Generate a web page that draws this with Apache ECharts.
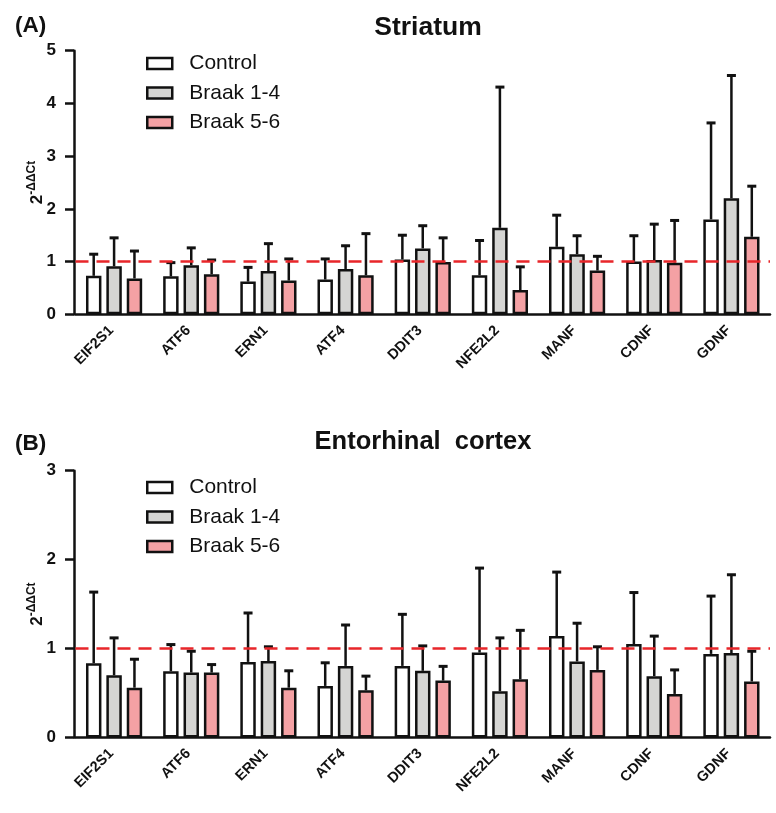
<!DOCTYPE html>
<html>
<head>
<meta charset="utf-8">
<script src="https://cdn.jsdelivr.net/npm/echarts@6/dist/echarts.min.js"></script>
<style>
html,body{margin:0;padding:0;background:#fff;}
#chart{width:776px;height:813px;}
</style>
</head>
<body>
<div id="chart"></div>
<script>
// ---- data ----
const genes = ['EIF2S1','ATF6','ERN1','ATF4','DDIT3','NFE2L2','MANF','CDNF','GDNF'];
const groupNames = ['Control','Braak 1-4','Braak 5-6'];

// Striatum (mean and SD, 2^-ΔΔCt)
const stControl     = [0.73, 0.72, 0.62, 0.66, 1.04, 0.74, 1.28, 1.00, 1.80];
const stControlSD   = [0.41, 0.26, 0.27, 0.39, 0.46, 0.66, 0.60, 0.49, 1.83];
const stBraak14     = [0.91, 0.93, 0.82, 0.86, 1.25, 1.64, 1.14, 1.03, 2.20];
const stBraak14SD   = [0.54, 0.33, 0.52, 0.44, 0.43, 2.67, 0.35, 0.68, 2.33];
const stBraak56     = [0.68, 0.76, 0.64, 0.74, 0.99, 0.46, 0.83, 0.98, 1.47];
const stBraak56SD   = [0.52, 0.27, 0.41, 0.79, 0.46, 0.44, 0.27, 0.80, 0.96];

// Entorhinal cortex
const ecControl     = [0.835, 0.745, 0.85, 0.58, 0.805, 0.955, 1.14, 1.05, 0.94];
const ecControlSD   = [0.80, 0.30, 0.55, 0.26, 0.58, 0.95, 0.72, 0.58, 0.65];
const ecBraak14     = [0.70, 0.73, 0.86, 0.805, 0.75, 0.52, 0.855, 0.69, 0.95];
const ecBraak14SD   = [0.42, 0.24, 0.16, 0.46, 0.28, 0.60, 0.43, 0.45, 0.88];
const ecBraak56     = [0.56, 0.73, 0.56, 0.53, 0.64, 0.655, 0.76, 0.49, 0.63];
const ecBraak56SD   = [0.32, 0.09, 0.19, 0.16, 0.16, 0.55, 0.26, 0.27, 0.34];

const stTicks = [0, 1, 2, 3, 4, 5];
const ecTicks = [0, 1, 2, 3];
const refLevel = 1;

// ---- styling ----
const FONT = '"Liberation Sans", Arial, sans-serif';
const fills = ['#ffffff', '#d5d5d3', '#f4a1a4'];
const INK = '#111111';
const BAR_W = 0.20;    // fraction of category band
const BAR_GAP = 0.32;  // fraction of bar width

function errRender(params, api) {
  const cat = api.value(0), s = api.value(1), mean = api.value(2), sd = api.value(3);
  const band = api.size([1, 0])[0];
  const bw = band * BAR_W, gap = bw * BAR_GAP;
  const off = (s - 1) * (bw + gap);
  const p0 = api.coord([cat, mean]);
  const p1 = api.coord([cat, mean + sd]);
  const x = p0[0] + off;
  return {
    type: 'group',
    children: [
      {type: 'line', shape: {x1: x, y1: p0[1], x2: x, y2: p1[1]}, style: {stroke: INK, lineWidth: 2.5}},
      {type: 'line', shape: {x1: x - 4.5, y1: p1[1], x2: x + 4.5, y2: p1[1]}, style: {stroke: INK, lineWidth: 3}}
    ]
  };
}

function errData(means, sds) {
  const out = [];
  means.forEach((m, s) => m.forEach((v, i) => out.push([i, s, v, sds[s][i]])));
  return out;
}

function xAxisFor(g) {
  return {
    type: 'category', gridIndex: g, data: genes,
    axisLine: {lineStyle: {color: INK, width: 2.5}},
    axisTick: {alignWithLabel: true, length: 7, lineStyle: {color: INK, width: 2.5}},
    axisLabel: {rotate: 45, margin: 11, padding: [0, 4, 0, 0], color: INK, fontFamily: FONT, fontWeight: 'bold', fontSize: 14.5, interval: 0}
  };
}
function yAxisFor(g, ticks) {
  return {
    type: 'value', gridIndex: g, min: ticks[0], max: ticks[ticks.length - 1], interval: 1,
    offset: 1.5,
    name: '{b|2}{s|-ΔΔCt}', nameLocation: 'middle', nameGap: 28, nameRotate: 90, nameMoveOverlap: false,
    nameTextStyle: {
      color: INK, fontFamily: FONT,
      rich: {
        b: {fontSize: 17, fontWeight: 'bold', fontFamily: FONT, color: INK, lineHeight: 20, verticalAlign: 'bottom'},
        s: {fontSize: 12, fontWeight: 'bold', fontFamily: FONT, color: INK, lineHeight: 20, verticalAlign: 'top'}
      }
    },
    splitLine: {show: false},
    axisLine: {show: true, lineStyle: {color: INK, width: 2.5}},
    axisTick: {show: true, length: 9, lineStyle: {color: INK, width: 2.5}},
    axisLabel: {margin: 18, color: INK, fontFamily: FONT, fontWeight: 'bold', fontSize: 17}
  };
}
function barSeries(g, name, idx, values) {
  return {
    type: 'bar', name: name, xAxisIndex: g, yAxisIndex: g, data: values,
    barWidth: (BAR_W * 100) + '%', barGap: (BAR_GAP * 100) + '%',
    itemStyle: {color: fills[idx], borderColor: INK, borderWidth: 2.5},
    emphasis: {disabled: true}, z: 2
  };
}
function refLine() {
  return {
    silent: true, symbol: ['none', 'none'],
    label: {show: false},
    lineStyle: {color: '#e8262a', width: 2.5, type: [13, 8]},
    data: [{yAxis: refLevel}]
  };
}
function legendFor(top) {
  return {
    orient: 'vertical', left: 146, top: top, padding: 0, itemWidth: 25, itemHeight: 11, itemGap: 8.5,
    icon: 'rect', data: groupNames, selectedMode: false,
    itemStyle: {borderColor: INK, borderWidth: 2.5},
    textStyle: {fontFamily: FONT, fontSize: 21, color: INK, padding: [0, 0, 0, 12]}
  };
}

const chart = echarts.init(document.getElementById('chart'), null, {renderer: 'canvas'});
chart.setOption({
  backgroundColor: '#fff',
  animation: false,
  title: [
    {text: 'Striatum', left: 428, top: 14, padding: 0, textAlign: 'center', textStyle: {fontFamily: FONT, fontWeight: 'bold', fontSize: 26.5, color: INK}},
    {text: 'Entorhinal  cortex', left: 423, top: 429, padding: 0, textAlign: 'center', textStyle: {fontFamily: FONT, fontWeight: 'bold', fontSize: 25.5, color: INK}},
    {text: '(A)', left: 15, top: 14, padding: 0, textStyle: {fontFamily: FONT, fontWeight: 'bold', fontSize: 22.5, color: INK}},
    {text: '(B)', left: 15, top: 432, padding: 0, textStyle: {fontFamily: FONT, fontWeight: 'bold', fontSize: 22.5, color: INK}}
  ],
  legend: [legendFor(53), legendFor(477)],
  grid: [
    {left: 75.5, right: 6, top: 50.7, height: 263.6},
    {left: 75.5, right: 6, top: 470.7, height: 266.8}
  ],
  xAxis: [xAxisFor(0), xAxisFor(1)],
  yAxis: [yAxisFor(0, stTicks), yAxisFor(1, ecTicks)],
  series: [
    barSeries(0, groupNames[0], 0, stControl),
    barSeries(0, groupNames[1], 1, stBraak14),
    barSeries(0, groupNames[2], 2, stBraak56),
    {
      type: 'custom', xAxisIndex: 0, yAxisIndex: 0, renderItem: errRender, z: 3, silent: true,
      encode: {x: 0, y: 2},
      data: errData([stControl, stBraak14, stBraak56], [stControlSD, stBraak14SD, stBraak56SD]),
      markLine: refLine()
    },
    barSeries(1, groupNames[0], 0, ecControl),
    barSeries(1, groupNames[1], 1, ecBraak14),
    barSeries(1, groupNames[2], 2, ecBraak56),
    {
      type: 'custom', xAxisIndex: 1, yAxisIndex: 1, renderItem: errRender, z: 3, silent: true,
      encode: {x: 0, y: 2},
      data: errData([ecControl, ecBraak14, ecBraak56], [ecControlSD, ecBraak14SD, ecBraak56SD]),
      markLine: refLine()
    }
  ]
});
</script>
</body>
</html>
